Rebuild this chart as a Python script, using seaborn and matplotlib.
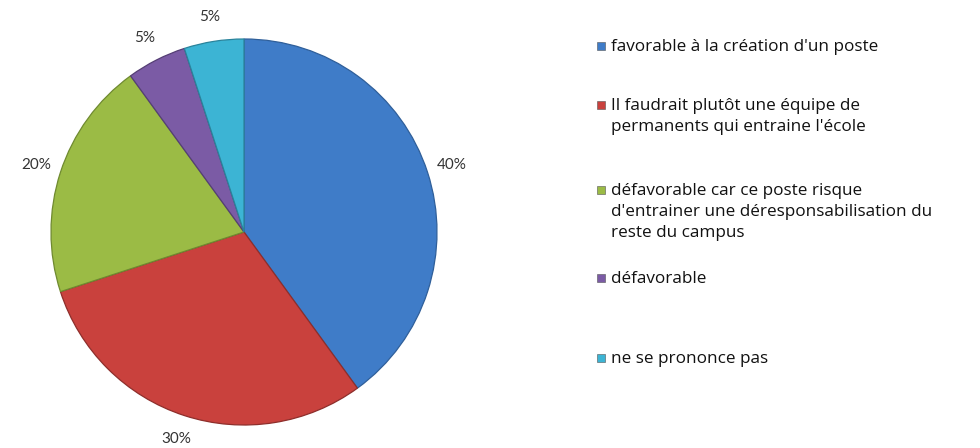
import matplotlib
matplotlib.use("Agg")
import matplotlib.pyplot as plt
import matplotlib.patches as patches
import seaborn as sns

# data
categories = [
    "favorable à la création d'un poste",
    "Il faudrait plutôt une équipe de\npermanents qui entraine l'école",
    "défavorable car ce poste risque\nd'entrainer une déresponsabilisation du\nreste du campus",
    "défavorable",
    "ne se prononce pas",
]
shares = [40, 30, 20, 5, 5]
colors = ["#3F7CC8", "#C9413D", "#9BBB45", "#7B5BA5", "#3CB4D4"]
edges = ["#2F5F9A", "#8E2E2B", "#6F8A30", "#553F75", "#2A839B"]

sns.set_theme(style="white")
plt.rcParams["font.family"] = ["Lato", "DejaVu Sans"]

fig = plt.figure(figsize=(9.8, 4.48), dpi=100)
W, H = 980, 448
cx, cy, r = 244, 232, 193
ax = fig.add_axes([(cx - r) / W, (H - cy - r) / H, 2 * r / W, 2 * r / H])

palette = sns.color_palette(colors)
wedges, _, autotexts = ax.pie(
    shares, colors=palette, startangle=90, counterclock=False,
    autopct="%d%%", pctdistance=1.13, radius=1.0,
    wedgeprops=dict(linewidth=0.9, edgecolor="#3a3a3a"),
    textprops=dict(fontsize=11, color="#333333"),
)
for w, ec in zip(wedges, edges):
    w.set_edgecolor(ec)
ax.set_xlim(-1, 1)
ax.set_ylim(-1, 1)
ax.set_aspect("equal")
ax.axis("off")

# legend entries placed one by one, like the original
leg_y = [46, 105, 190, 278, 358]
for lab, col, y in zip(categories, colors, leg_y):
    fig.patches.append(patches.Rectangle(
        (597 / W, (H - y - 4) / H), 8 / W, 8 / H, transform=fig.transFigure,
        facecolor=col, edgecolor="#555555", linewidth=0.4))
    fig.text(611 / W, (H - y + 7) / H, lab, fontsize=12.3, color="#111111",
             family=["Open Sans", "DejaVu Sans"], va="top", linespacing=1.42)

fig.savefig("out.png", dpi=100)
